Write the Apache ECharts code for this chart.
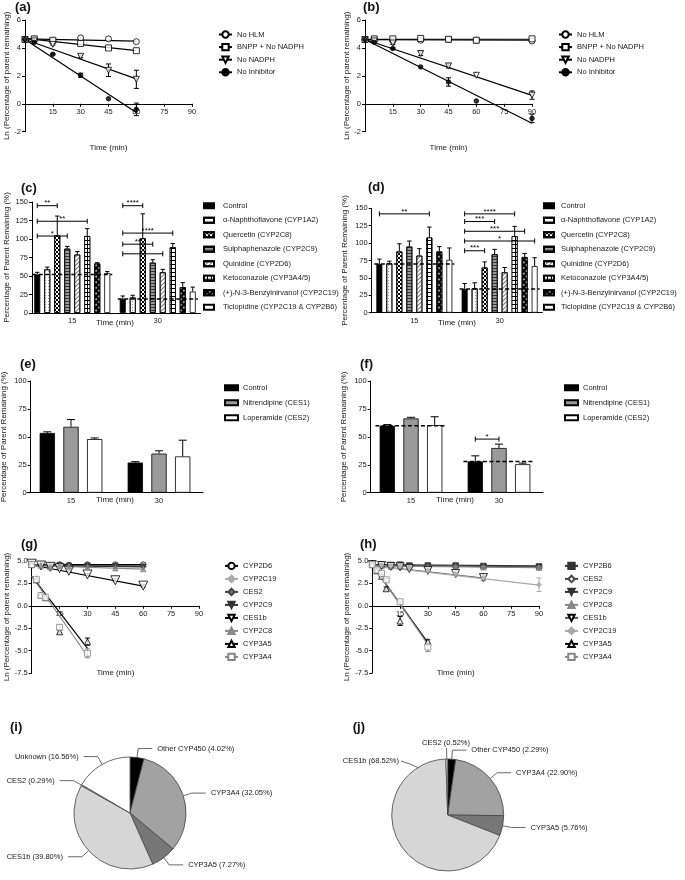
<!DOCTYPE html>
<html>
<head>
<meta charset="utf-8">
<title>Figure</title>
<script src="https://cdn.jsdelivr.net/npm/echarts@6.0.0/dist/echarts.min.js"></script>
<style>
  html, body { margin: 0; padding: 0; background: #fff; }
  .panel { position: absolute; }
</style>
</head>
<body>
<div id="pa" class="panel" style="left:0;top:0;width:345px;height:170px"></div>
<div id="pb" class="panel" style="left:340px;top:0;width:345px;height:170px"></div>
<div id="pc" class="panel" style="left:0;top:145px;width:350px;height:195px"></div>
<div id="pd" class="panel" style="left:340px;top:145px;width:345px;height:195px"></div>
<div id="pe" class="panel" style="left:0;top:320px;width:345px;height:200px"></div>
<div id="pf" class="panel" style="left:340px;top:320px;width:345px;height:200px"></div>
<div id="pg" class="panel" style="left:0;top:500px;width:345px;height:195px"></div>
<div id="ph" class="panel" style="left:340px;top:500px;width:345px;height:195px"></div>
<div id="pi" class="panel" style="left:0;top:690px;width:340px;height:190px"></div>
<div id="pj" class="panel" style="left:330px;top:690px;width:355px;height:190px"></div>
<script>
var FONT = '"Liberation Sans", Arial, sans-serif';
var INK = '#1a1a1a';

// ---- (a) / (b): inhibitor time course, ln(% remaining) ----
var timeA = [0, 5, 15, 30, 45, 60];
var noHlmA = [4.60, 4.62, 4.50, 4.72, 4.65, 4.45];
var bnppA = [4.60, 4.65, 4.55, 4.32, 4.00, 3.80];
var noNadphA = [4.60, 4.50, 4.25, 3.40, 2.40, 1.75];
var noNadphAErr = [0, 0, 0.05, 0.10, 0.45, 0.65];
var noInhA = [4.60, 4.40, 3.55, 2.04, 0.36, -0.40];
var noInhAErr = [0, 0, 0.05, 0.15, 0, 0.45];
var fitTimeA = [0, 60];
var fitNoHlmA = [4.65, 4.48];
var fitBnppA = [4.68, 3.80];
var fitNoNadphA = [4.60, 1.78];
var fitNoInhA = [4.60, -0.62];

var timeB = [0, 5, 15, 30, 45, 60, 90];
var noHlmB = [4.60, 4.60, 4.52, 4.55, 4.60, 4.55, 4.50];
var bnppB = [4.60, 4.65, 4.65, 4.68, 4.62, 4.55, 4.65];
var noNadphB = [4.60, 4.50, 4.35, 3.60, 2.71, 2.04, 0.62];
var noNadphBErr = [0, 0, 0.10, 0.15, 0.15, 0, 0.30];
var noInhB = [4.60, 4.40, 3.96, 2.64, 1.56, 0.20, -1.05];
var noInhBErr = [0, 0, 0.05, 0, 0.30, 0, 0.30];
var fitTimeB = [0, 90];
var fitNoHlmB = [4.60, 4.55];
var fitBnppB = [4.62, 4.62];
var fitNoNadphB = [4.60, 0.60];
var fitNoInhB = [4.60, -1.40];

// ---- (c) / (d): CYP inhibitors, % parent remaining ----
var timeCats = ['15', '30'];
var cypNames = ['Control', '\u03b1-Naphthoflavone (CYP1A2)', 'Quercetin (CYP2C8)', 'Sulphaphenazole (CYP2C9)',
  'Quinidine (CYP2D6)', 'Ketoconazole (CYP3A4/5)', '(+)-N-3-Benzylnirvanol (CYP2C19)', 'Ticlopidine (CYP2C19 & CYP2B6)'];
var cypC = [[52, 19], [59, 21], [105, 101], [87, 68], [79, 55], [104, 89], [67, 35], [54, 29]];
var cypCUpper = [[55, 23], [62, 24], [131, 134], [90, 72], [83, 59], [114, 94], [68, 41], [56, 35]];
var ctrlLineC = [52, 19];
var sigC = [[0, 0, 2, 145], [0, 0, 5, 124], [0, 0, 3, 104], [1, 0, 2, 145], [1, 0, 5, 108], [1, 0, 3, 93], [1, 0, 4, 80]];
var sigCText = ['**', '**', '*', '****', '****', '**', '*'];

var cypD = [[70, 34], [71, 35], [88, 65], [95, 84], [82, 58], [108, 110], [88, 80], [76, 67]];
var cypDUpper = [[77, 42], [74, 43], [99, 73], [103, 91], [92, 65], [123, 124], [95, 85], [93, 79]];
var ctrlLineD = [70, 34];
var sigD = [[0, 0, 5, 142], [1, 0, 5, 142], [1, 0, 3, 131], [1, 0, 6, 117], [1, 0, 7, 103], [1, 0, 2, 89]];
var sigDText = ['**', '****', '***', '***', '*', '***'];

// ---- (e) / (f): CES inhibitors ----
var cesNames = ['Control', 'Nitrendipine (CES1)', 'Loperamide (CES2)'];
var cesE = [[53.5, 27], [59, 35], [48, 32.5]];
var cesEUpper = [[54.5, 27.8], [65.5, 37.5], [49, 47]];
var cesF = [[60, 28], [66.5, 40], [60.5, 25.5]];
var cesFUpper = [[61, 33], [67.5, 43.5], [68, 26.5]];
var ctrlLineF = [60, 28];
var sigF = [[1, 0, 1, 48]];
var sigFText = ['*'];

// ---- (g) / (h): recombinant enzymes ----
var timeSlowG = [0, 5, 10, 15, 20, 30, 45, 60];
var timeSlowH = [0, 5, 10, 15, 20, 30, 45, 60, 90];
var timeFast = [0, 2.5, 5, 7.5, 15, 30];
var fitSlowG = [0, 60];
var fitSlowH = [0, 90];
var fitFast = [0, 30];

var cyp2d6G = [4.60, 4.55, 4.50, 4.60, 4.55, 4.60, 4.60, 4.60];
var cyp2c19G = [4.60, 4.50, 4.45, 4.50, 4.50, 4.45, 4.45, 4.40];
var ces2G = [4.60, 4.45, 4.35, 4.55, 4.50, 4.50, 4.50, 4.40];
var cyp2c9G = [4.70, 4.40, 4.30, 4.50, 4.45, 4.45, 4.40, 4.35];
var ces1bG = [4.70, 4.50, 4.35, 4.20, 3.90, 3.50, 2.85, 2.25];
var ces1bGErr = [0, 0, 0, 0, 0.10, 0.10, 0.15, 0.15];
var cyp2c8G = [4.60, 4.50, 4.30, 4.45, 4.40, 4.30, 4.20, 4.10];
var cyp3a5G = [4.60, 2.90, 1.20, 0.90, -2.90, -4.00];
var cyp3a5GErr = [0, 0.10, 0.10, 0.10, 0.15, 0.40];
var cyp3a4G = [4.60, 2.95, 1.15, 0.95, -2.40, -5.30];
var cyp3a4GErr = [0, 0.10, 0.10, 0.10, 0.25, 0.50];
var fit2d6G = [4.60, 4.60];
var fit2c19G = [4.55, 4.40];
var fitCes2G = [4.50, 4.45];
var fit2c9G = [4.50, 4.35];
var fitCes1bG = [4.55, 2.20];
var fit2c8G = [4.50, 4.10];
var fit3a5G = [3.30, -4.75];
var fit3a4G = [3.30, -5.60];

var cyp2b6H = [4.70, 4.60, 4.55, 4.60, 4.50, 4.50, 4.50, 4.45, 4.40];
var ces2H = [4.60, 4.50, 4.45, 4.50, 4.35, 4.45, 4.45, 4.40, 4.35];
var cyp2c9H = [4.70, 4.50, 4.40, 4.45, 4.40, 4.40, 4.40, 4.35, 4.30];
var cyp2c8H = [4.60, 4.45, 4.40, 4.40, 4.30, 4.30, 4.30, 4.30, 4.25];
var ces1bH = [4.60, 4.50, 4.40, 4.35, 4.15, 3.95, 3.60, 3.15];
var ces1bHErr = [0, 0, 0, 0, 0, 0.10, 0.15, 0.30];
var cyp2c19H = [4.60, 4.50, 4.45, 4.40, 4.30, 3.90, 3.55, 3.10, 2.35];
var cyp2c19HErr = [0, 0, 0, 0, 0, 0.10, 0.15, 0.30, 0.75];
var cyp3a5H = [4.60, 3.90, 3.30, 1.90, -1.70, -4.00];
var cyp3a5HErr = [0, 0.10, 0.15, 0.20, 0.50, 0.20];
var cyp3a4H = [4.60, 4.00, 3.60, 2.90, 0.45, -4.60];
var cyp3a4HErr = [0, 0.10, 0.10, 0.15, 0.10, 0.50];
var fit2b6H = [4.60, 4.45];
var fitCes2H = [4.50, 4.35];
var fit2c9H = [4.50, 4.30];
var fit2c8H = [4.45, 4.25];
var fitCes1bH = [4.50, 3.10];
var fit2c19H = [4.45, 2.30];
var fit3a5H = [4.55, -4.10];
var fit3a4H = [4.65, -4.30];

// ---- (i) / (j): contribution pies ----
var pieNamesI = ['Other CYP450', 'CYP3A4', 'CYP3A5', 'CES1b', 'CES2', 'Unknown'];
var pieValsI = [4.02, 32.05, 7.27, 39.80, 0.29, 16.56];
var pieNamesJ = ['Other CYP450', 'CYP3A4', 'CYP3A5', 'CES1b', 'CES2'];
var pieValsJ = [2.29, 22.90, 5.76, 68.52, 0.52];

// ------------------------------------------------------------
var pieColors = { 'Other CYP450': '#000', 'CYP3A4': '#a2a2a2', 'CYP3A5': '#777', 'CES1b': '#d6d6d6', 'CES2': '#f4f4f4', 'Unknown': '#fff' };

function title(t, pos) {
  return { text: t, left: pos[0], top: pos[1], padding: 0,
    textStyle: { fontFamily: FONT, fontSize: 13, fontWeight: 'bold', color: '#111' } };
}

function gridOf(g) {
  return Object.assign({ outerBoundsMode: 'none', containLabel: false }, g);
}

function axisBits() {
  return {
    nameMoveOverlap: false,
    axisLine: { show: true, onZero: false, lineStyle: { color: '#000', width: 1 } },
    axisTick: { show: true, length: 3, lineStyle: { color: '#000', width: 1 } },
    axisLabel: { color: INK, fontSize: 7.5, fontFamily: FONT, margin: 4 },
    splitLine: { show: false },
    nameTextStyle: { color: INK, fontSize: 8, fontFamily: FONT }
  };
}

function errRender(color, cap, upOnly, offset) {
  return function (params, api) {
    var c = api.value(0);
    var a = api.coord([c, api.value(1)]);
    var b = api.coord([c, api.value(2)]);
    var x = a[0] + (offset || 0);
    var st = { stroke: color, lineWidth: 1 };
    var kids = [
      { type: 'line', shape: { x1: x, y1: a[1], x2: x, y2: b[1] }, style: st },
      { type: 'line', shape: { x1: x - cap, y1: b[1], x2: x + cap, y2: b[1] }, style: st }
    ];
    if (!upOnly) kids.push({ type: 'line', shape: { x1: x - cap, y1: a[1], x2: x + cap, y2: a[1] }, style: st });
    return { type: 'group', children: kids };
  };
}

// one course = points + regression line + error bars
function course(name, t, v, e, ft, fv, look) {
  return { name: name, t: t, v: v, e: e, ft: ft, fv: fv, look: look };
}

function timeCourse(id, cfg) {
  var series = [];
  cfg.lines.forEach(function (L) {
    var k = L.look;
    var item = { color: k.fill, borderColor: k.color, borderWidth: 1 };
    series.push({
      type: 'line', name: L.name, data: [[L.ft[0], L.fv[0]], [L.ft[1], L.fv[1]]],
      symbol: k.symbol, symbolSize: k.size, symbolRotate: k.rotate || 0, showSymbol: false,
      lineStyle: { color: k.line || k.color, width: 1.2 }, itemStyle: item, z: 2, silent: true
    });
    series.push({
      type: 'scatter', name: L.name + ' pts', data: L.t.map(function (x, i) { return [x, L.v[i]]; }),
      symbol: k.symbol, symbolSize: k.size, symbolRotate: k.rotate || 0, itemStyle: item, z: 4, silent: true
    });
    if (L.e) {
      var eb = [];
      L.t.forEach(function (x, i) { if (L.e[i] > 0) eb.push([x, L.v[i] - L.e[i], L.v[i] + L.e[i]]); });
      series.push({ type: 'custom', data: eb, encode: { x: 0, y: [1, 2] }, renderItem: errRender(k.color, 2.5, false), z: 3, silent: true });
    }
  });
  var xa = axisBits(), ya = axisBits();
  // x axis sits on y = 0 (shift up from the grid bottom)
  var zeroShift = -cfg.grid.height * (0 - cfg.yMin) / (cfg.yMax - cfg.yMin);
  Object.assign(xa, {
    type: 'value', min: 0, max: 90, interval: 15, offset: zeroShift,
    name: 'Time (min)', nameLocation: 'middle', nameGap: cfg.xNameGap
  });
  xa.axisLabel.showMinLabel = false;
  Object.assign(ya, {
    type: 'value', min: cfg.yMin, max: cfg.yMax, interval: cfg.yStep,
    name: 'Ln (Percentage of parent remaining)', nameLocation: 'middle', nameGap: cfg.yNameGap
  });
  if (cfg.yFmt) ya.axisLabel.formatter = cfg.yFmt;
  var chart = echarts.init(document.getElementById(id), null, { renderer: 'canvas' });
  chart.setOption({
    animation: false,
    title: title(cfg.title, cfg.titlePos),
    grid: gridOf(cfg.grid),
    xAxis: xa,
    yAxis: ya,
    legend: {
      data: cfg.lines.map(function (L) { return L.name; }),
      orient: 'vertical', left: cfg.legend.left, top: cfg.legend.top, padding: 0,
      itemWidth: 13, itemHeight: 8, itemGap: cfg.legend.gap,
      textStyle: { fontFamily: FONT, fontSize: 7.5, color: INK, lineHeight: 8 }
    },
    series: series
  });
}

function barChart(id, cfg) {
  var n = cfg.names.length, step = cfg.barW + cfg.gap;
  var series = cfg.names.map(function (nm, i) {
    return {
      type: 'bar', name: nm, data: cfg.values[i], barWidth: cfg.barW,
      barGap: (cfg.gap / cfg.barW * 100) + '%',
      itemStyle: Object.assign({ borderColor: '#000', borderWidth: 0.8 }, cfg.looks[i]), z: 2
    };
  });
  cfg.names.forEach(function (nm, i) {
    var off = (i - (n - 1) / 2) * step;
    series.push({
      type: 'custom', data: cfg.uppers[i].map(function (u, c) { return [c, cfg.values[i][c], u]; }),
      encode: { x: 0, y: [1, 2] }, renderItem: errRender('#000', cfg.cap, true, off), z: 3, silent: true
    });
  });
  if (cfg.ctrl) {
    series.push({
      type: 'custom', data: cfg.ctrl.map(function (v, c) { return [c, v]; }), encode: { x: 0, y: 1 }, z: 5, silent: true,
      renderItem: function (params, api) {
        var p = api.coord([api.value(0), api.value(1)]);
        var half = n * step / 2;
        return { type: 'line', shape: { x1: p[0] - half, y1: p[1], x2: p[0] + half, y2: p[1] },
          style: { stroke: '#000', lineWidth: 1.5, lineDash: [4, 2.5] } };
      }
    });
  }
  if (cfg.sig) {
    series.push({
      type: 'custom', data: cfg.sig, encode: { x: 0, y: 3 }, z: 6, silent: true,
      renderItem: function (params, api) {
        var p = api.coord([api.value(0), api.value(3)]);
        var x1 = p[0] + (api.value(1) - (n - 1) / 2) * step;
        var x2 = p[0] + (api.value(2) - (n - 1) / 2) * step;
        var y = p[1];
        var st = { stroke: '#000', lineWidth: 1 };
        return { type: 'group', children: [
          { type: 'line', shape: { x1: x1, y1: y, x2: x2, y2: y }, style: st },
          { type: 'line', shape: { x1: x1, y1: y - 2.5, x2: x1, y2: y + 2.5 }, style: st },
          { type: 'line', shape: { x1: x2, y1: y - 2.5, x2: x2, y2: y + 2.5 }, style: st },
          { type: 'text', style: { text: cfg.sigText[params.dataIndex], x: (x1 + x2) / 2, y: y + 1.5,
            align: 'center', verticalAlign: 'bottom', fontSize: 8, fontFamily: FONT, fill: '#000' } }
        ] };
      }
    });
  }
  var xa = axisBits(), ya = axisBits();
  Object.assign(xa, { type: 'category', data: timeCats, name: 'Time (min)', nameLocation: 'middle', nameGap: cfg.xNameGap });
  xa.axisTick = { show: false };
  Object.assign(ya, {
    type: 'value', min: 0, max: cfg.yMax, interval: 25, offset: cfg.yOffset || 0,
    name: 'Percentage of Parent Remaining (%)', nameLocation: 'middle', nameGap: cfg.yNameGap
  });
  var chart = echarts.init(document.getElementById(id), null, { renderer: 'canvas' });
  chart.setOption({
    animation: false,
    title: title(cfg.title, cfg.titlePos),
    grid: gridOf(cfg.grid),
    xAxis: xa,
    yAxis: ya,
    legend: {
      data: cfg.names, orient: 'vertical', left: cfg.legend.left, top: cfg.legend.top, padding: 0,
      icon: 'rect', itemWidth: cfg.legend.w, itemHeight: 5, itemGap: cfg.legend.gap,
      textStyle: { fontFamily: FONT, fontSize: 7.5, color: INK, lineHeight: 8, padding: [0, 0, 0, cfg.legend.pad || 0] }
    },
    series: series
  });
}

function pieChart(id, cfg) {
  var chart = echarts.init(document.getElementById(id), null, { renderer: 'canvas' });
  chart.setOption({
    animation: false,
    title: title(cfg.title, cfg.titlePos),
    series: [{
      type: 'pie', center: cfg.center, radius: cfg.radius, startAngle: 90, clockwise: true,
      avoidLabelOverlap: true, minShowLabelAngle: 0,
      data: cfg.names.map(function (nm, i) {
        return { name: nm, value: cfg.values[i], itemStyle: { color: pieColors[nm] } };
      }),
      itemStyle: { borderColor: '#444', borderWidth: 0.8 },
      label: {
        show: true, position: 'outside', fontFamily: FONT, fontSize: 7.5, color: INK, overflow: 'none',
        formatter: function (p) { return p.name + ' (' + p.value.toFixed(2) + '%)'; }
      },
      labelLine: { show: true, length: 9, length2: 14, lineStyle: { color: '#444', width: 0.8 } },
      labelLayout: cfg.labelLayout
    }]
  });
}

// ---- symbol looks (styles only) ----
var openCircle = { symbol: 'circle', size: 6, color: '#000', fill: '#fff' };
var openSquare = { symbol: 'rect', size: 6, color: '#000', fill: '#fff' };
var openTriDown = { symbol: 'triangle', size: 6, rotate: 180, color: '#000', fill: '#fff' };
var dotBlack = { symbol: 'circle', size: 4.5, color: '#000', fill: '#000' };

timeCourse('pa', {
  title: '(a)', titlePos: [15, 1], grid: { left: 25, top: 20, width: 167, height: 111.7 },
  yMin: -2, yMax: 6, yStep: 2, xNameGap: 40, yNameGap: 14,
  legend: { left: 218, top: 30.3, gap: 4.2 },
  lines: [
    course('No HLM', timeA, noHlmA, null, fitTimeA, fitNoHlmA, openCircle),
    course('BNPP + No NADPH', timeA, bnppA, null, fitTimeA, fitBnppA, openSquare),
    course('No NADPH', timeA, noNadphA, noNadphAErr, fitTimeA, fitNoNadphA, openTriDown),
    course('No Inhibitor', timeA, noInhA, noInhAErr, fitTimeA, fitNoInhA, dotBlack)
  ]
});

timeCourse('pb', {
  title: '(b)', titlePos: [23, 1], grid: { left: 25, top: 20, width: 167, height: 111.7 },
  yMin: -2, yMax: 6, yStep: 2, xNameGap: 40, yNameGap: 14,
  legend: { left: 218, top: 30.3, gap: 4.2 },
  lines: [
    course('No HLM', timeB, noHlmB, null, fitTimeB, fitNoHlmB, openCircle),
    course('BNPP + No NADPH', timeB, bnppB, null, fitTimeB, fitBnppB, openSquare),
    course('No NADPH', timeB, noNadphB, noNadphBErr, fitTimeB, fitNoNadphB, openTriDown),
    course('No Inhibitor', timeB, noInhB, noInhBErr, fitTimeB, fitNoInhB, dotBlack)
  ]
});

// bar patterns (styles only)
var cypLooks = [
  { color: '#000' },
  { color: '#fff', decal: { symbol: 'rect', symbolSize: 1, dashArrayX: [1, 2], dashArrayY: [1, 2], color: '#999' } },
  { color: '#fff', decal: { symbol: 'rect', symbolSize: 1, dashArrayX: [[2, 2], [0, 2, 2, 0]], dashArrayY: [2, 0], color: '#000' } },
  { color: '#9a9a9a', decal: { symbol: 'rect', symbolSize: 1, dashArrayX: [1, 0], dashArrayY: [1, 1.5], color: '#333' } },
  { color: '#fff', decal: { symbol: 'rect', symbolSize: 1, dashArrayX: [1, 0], dashArrayY: [1, 2], rotation: -Math.PI / 4, color: '#777' } },
  { color: '#000', decal: { symbol: 'rect', symbolSize: 1, dashArrayX: [3, 1], dashArrayY: [3, 1], color: '#fff' } },
  { color: '#000', decal: { symbol: 'rect', symbolSize: 0.8, dashArrayX: [2, 2], dashArrayY: [2, 2], rotation: Math.PI / 4, color: '#fff' } },
  { color: '#fff' }
];
var cesLooks = [{ color: '#000' }, { color: '#9a9a9a' }, { color: '#fff' }];

barChart('pc', {
  title: '(c)', titlePos: [21, 37], grid: { left: 29.5, top: 57, width: 171, height: 111 }, yOffset: -2.5,
  yMax: 150, xNameGap: 6, yNameGap: 21,
  names: cypNames, values: cypC, uppers: cypCUpper, looks: cypLooks, barW: 6, gap: 4, cap: 2.2,
  ctrl: ctrlLineC, sig: sigC, sigText: sigCText,
  legend: { left: 203, top: 56.7, w: 10, gap: 6.5, pad: 4 }
});

barChart('pd', {
  title: '(d)', titlePos: [28, 36], grid: { left: 31.7, top: 63.3, width: 170.6, height: 104.4 },
  yMax: 150, xNameGap: 6, yNameGap: 22.7,
  names: cypNames, values: cypD, uppers: cypDUpper, looks: cypLooks, barW: 6, gap: 4, cap: 2.2,
  ctrl: ctrlLineD, sig: sigD, sigText: sigDText,
  legend: { left: 203, top: 56.7, w: 10, gap: 6.5, pad: 2 }
});

barChart('pe', {
  title: '(e)', titlePos: [20, 38], grid: { left: 27, top: 61, width: 176, height: 111.7 }, yOffset: -3.7,
  yMax: 100, xNameGap: 3.5, yNameGap: 22.7,
  names: cesNames, values: cesE, uppers: cesEUpper, looks: cesLooks, barW: 15.3, gap: 8.4, cap: 4,
  legend: { left: 224, top: 63.7, w: 13, gap: 7 }
});

barChart('pf', {
  title: '(f)', titlePos: [20, 38], grid: { left: 27, top: 61, width: 176, height: 111.7 }, yOffset: -3.7,
  yMax: 100, xNameGap: 3.5, yNameGap: 22.7,
  names: cesNames, values: cesF, uppers: cesFUpper, looks: cesLooks, barW: 15.3, gap: 8.4, cap: 4,
  ctrl: ctrlLineF, sig: sigF, sigText: sigFText,
  legend: { left: 224, top: 63.7, w: 13, gap: 7 }
});

var fmt1 = function (v) { return v.toFixed(1); };
var lookD6 = { symbol: 'circle', size: 5.5, color: '#000', fill: '#fff' };
var look2c19 = { symbol: 'diamond', size: 5, color: '#aaa', fill: '#aaa' };
var lookCes2 = { symbol: 'diamond', size: 6, color: '#444', fill: '#777' };
var look2c9 = { symbol: 'triangle', size: 5.5, rotate: 180, color: '#333', fill: '#333' };
var lookCes1b = { symbol: 'triangle', size: 9, rotate: 180, color: '#000', fill: '#fff' };
var look2c8 = { symbol: 'triangle', size: 5.5, color: '#888', fill: '#888' };
var look3a5 = { symbol: 'triangle', size: 6, color: '#000', fill: '#fff' };
var look3a4 = { symbol: 'rect', size: 6, color: '#888', fill: '#fff' };
var look2b6 = { symbol: 'rect', size: 5.5, color: '#333', fill: '#333' };
var lookCes2H = { symbol: 'diamond', size: 6.5, color: '#444', fill: '#fff' };
var lookCes1bH = { symbol: 'triangle', size: 8, rotate: 180, color: '#000', fill: '#fff', line: '#555' };
var look2c19H = { symbol: 'diamond', size: 5, color: '#aaa', fill: '#aaa' };

timeCourse('pg', {
  title: '(g)', titlePos: [21, 38], grid: { left: 31.7, top: 61, width: 167.3, height: 112 },
  yMin: -7.5, yMax: 5, yStep: 2.5, yFmt: fmt1, xNameGap: 62.7, yNameGap: 21,
  legend: { left: 224, top: 61.7, gap: 4.6 },
  lines: [
    course('CYP2D6', timeSlowG, cyp2d6G, null, fitSlowG, fit2d6G, lookD6),
    course('CYP2C19', timeSlowG, cyp2c19G, null, fitSlowG, fit2c19G, look2c19),
    course('CES2', timeSlowG, ces2G, null, fitSlowG, fitCes2G, lookCes2),
    course('CYP2C9', timeSlowG, cyp2c9G, null, fitSlowG, fit2c9G, look2c9),
    course('CES1b', timeSlowG, ces1bG, ces1bGErr, fitSlowG, fitCes1bG, lookCes1b),
    course('CYP2C8', timeSlowG, cyp2c8G, null, fitSlowG, fit2c8G, look2c8),
    course('CYP3A5', timeFast, cyp3a5G, cyp3a5GErr, fitFast, fit3a5G, look3a5),
    course('CYP3A4', timeFast, cyp3a4G, cyp3a4GErr, fitFast, fit3a4G, look3a4)
  ]
});

timeCourse('ph', {
  title: '(h)', titlePos: [20, 38], grid: { left: 32.3, top: 61, width: 166.7, height: 112 },
  yMin: -7.5, yMax: 5, yStep: 2.5, yFmt: fmt1, xNameGap: 62.7, yNameGap: 21.5,
  legend: { left: 224, top: 61.7, gap: 4.6 },
  lines: [
    course('CYP2B6', timeSlowH, cyp2b6H, null, fitSlowH, fit2b6H, look2b6),
    course('CES2', timeSlowH, ces2H, null, fitSlowH, fitCes2H, lookCes2H),
    course('CYP2C9', timeSlowH, cyp2c9H, null, fitSlowH, fit2c9H, look2c9),
    course('CYP2C8', timeSlowH, cyp2c8H, null, fitSlowH, fit2c8H, look2c8),
    course('CES1b', timeSlowG, ces1bH, ces1bHErr, fitSlowG, fitCes1bH, lookCes1bH),
    course('CYP2C19', timeSlowH, cyp2c19H, cyp2c19HErr, fitSlowH, fit2c19H, look2c19H),
    course('CYP3A5', timeFast, cyp3a5H, cyp3a5HErr, fitFast, fit3a5H, look3a5),
    course('CYP3A4', timeFast, cyp3a4H, cyp3a4HErr, fitFast, fit3a4H, look3a4)
  ]
});

pieChart('pi', { title: '(i)', titlePos: [10, 31], center: [130, 123], radius: 56, names: pieNamesI, values: pieValsI });

// (j): Prism put the CES1b and CES2 labels above the pie
pieChart('pj', {
  title: '(j)', titlePos: [22.7, 31], center: [117.7, 125], radius: 56, names: pieNamesJ, values: pieValsJ,
  labelLayout: function (p) {
    if (p.dataIndex === 3) {
      return { x: 69, y: 71, align: 'right', verticalAlign: 'middle',
        labelLinePoints: [[89, 78], [80, 74], [71, 71]] };
    }
    if (p.dataIndex === 4) {
      return { x: 116, y: 53, align: 'center', verticalAlign: 'middle',
        labelLinePoints: [[116.8, 69], [116.6, 62], [116.5, 58]] };
    }
  }
});
</script>
</body>
</html>
